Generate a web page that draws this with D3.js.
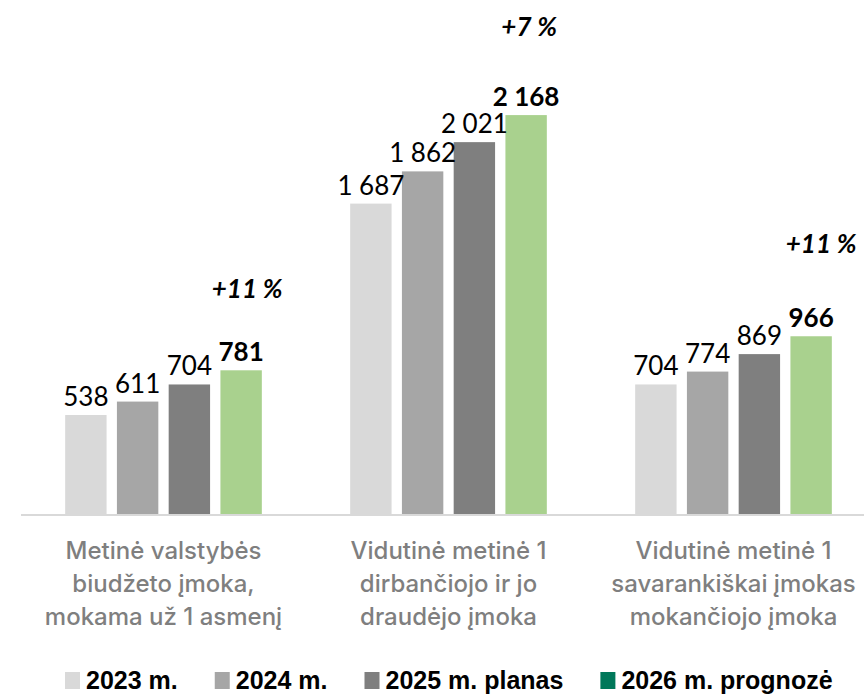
<!DOCTYPE html>
<html>
<head>
<meta charset="utf-8">
<script src="https://cdn.jsdelivr.net/npm/d3@7"></script>
<style>
  body { margin: 0; background: #fff; }
  svg { display: block; }
</style>
</head>
<body>
<div id="chart"></div>
<script>
// data
var categories = ["g1", "g2", "g3"];
var categoryLines = [
    ["Metinė valstybės", "biudžeto įmoka,", "mokama už 1 asmenį"],
    ["Vidutinė metinė 1", "dirbančiojo ir jo", "draudėjo  įmoka"],
    ["Vidutinė metinė 1", "savarankiškai įmokas", "mokančiojo įmoka"]
];
var seriesNames = ["2023 m.", "2024 m.", "2025 m. planas", "2026 m. prognozė"];
var values2023 = [538, 1687, 704];
var values2024 = [611, 1862, 774];
var values2025 = [704, 2021, 869];
var values2026 = [781, 2168, 966];
var growthLabels = ["+11 %", "+7 %", "+11 %"];

var seriesValues = [values2023, values2024, values2025, values2026];

// styles
var barColors = ["#d9d9d9", "#a6a6a6", "#7f7f7f", "#a9d18e"];
var legendColors = ["#d9d9d9", "#a6a6a6", "#7f7f7f", "#00785a"];
var noteLift = [72, 79, 83];
var noteShift = [6, 3, 10];

var width = 864, height = 697;
var baseY = 514;

var svg = d3.select("#chart")
    .append("svg")
    .attr("width", width)
    .attr("height", height);

// X scales
var x0 = d3.scaleBand()
    .domain(categories)
    .range([21, 876])
    .paddingInner(0)
    .paddingOuter(0);

var x1 = d3.scaleBand()
    .domain(d3.range(seriesNames.length))
    .range([x0.bandwidth() * 0.155, x0.bandwidth() * 0.845])
    .paddingInner(0.2);

// Y scale
var y = d3.scaleLinear()
    .domain([0, 2400])
    .range([baseY, 72.4]);

var rows = categories.map(function(c, i) {
    return seriesValues.map(function(s, j) {
        return {cat: c, idx: i, s: j, value: s[i]};
    });
});

var groups = svg.selectAll(".grp")
    .data(rows)
    .enter()
    .append("g")
    .attr("class", "grp")
    .attr("transform", function(d, i) { return "translate(" + x0(categories[i]) + ",0)"; });

//Bars
groups.selectAll("rect")
    .data(function(d) { return d; })
    .enter()
    .append("rect")
    .attr("x", function(d) { return x1(d.s); })
    .attr("y", function(d) { return y(d.value); })
    .attr("width", x1.bandwidth())
    .attr("height", function(d) { return y(0) - y(d.value); })
    .attr("fill", function(d) { return barColors[d.s]; });

// value labels
var fmt = function(v) { return d3.format(",")(v).replace(/,/g, " "); };
groups.selectAll(".val")
    .data(function(d) { return d; })
    .enter()
    .append("text")
    .attr("class", "val")
    .attr("x", function(d) { return x1(d.s) + x1.bandwidth() / 2; })
    .attr("y", function(d) { return y(d.value) - 9; })
    .attr("text-anchor", "middle")
    .style("font-family", "Lato, 'Open Sans', sans-serif")
    .style("font-size", "26px")
    .style("font-weight", function(d) { return d.s === 3 ? "bold" : "normal"; })
    .style("fill", "#000")
    .text(function(d) { return fmt(d.value); });

// growth notes
groups.append("text")
    .attr("x", function(d, i) { return x1(3) + x1.bandwidth() / 2 + noteShift[i]; })
    .attr("y", function(d, i) { return y(values2026[i]) - noteLift[i]; })
    .attr("text-anchor", "middle")
    .style("font-family", "Lato, sans-serif")
    .style("font-size", "26px")
    .style("font-weight", "bold")
    .style("font-style", "italic")
    .style("fill", "#000")
    .text(function(d, i) { return growthLabels[i]; });

// axis line
svg.append("line")
    .attr("x1", x0.range()[0])
    .attr("x2", width)
    .attr("y1", baseY + 1)
    .attr("y2", baseY + 1)
    .attr("stroke", "#d9d9d9")
    .attr("stroke-width", 2);

// category labels
groups.append("text")
    .attr("text-anchor", "middle")
    .style("font-family", "Inter, 'Noto Sans', sans-serif")
    .style("font-size", "24px")
    .style("font-weight", "500")
    .style("fill", "#7f7f7f")
    .selectAll("tspan")
    .data(function(d, i) { return categoryLines[i]; })
    .enter()
    .append("tspan")
    .attr("x", x0.bandwidth() / 2)
    .attr("y", function(d, k) { return 559 + k * 33; })
    .text(function(d) { return d; });

// legend
var legend = svg.append("g").attr("transform", "translate(65,689)");
var lx = 0;
seriesNames.forEach(function(name, i) {
    var item = legend.append("g").attr("transform", "translate(" + lx + ",0)");
    item.append("rect")
        .attr("x", 0)
        .attr("y", -17)
        .attr("width", 15)
        .attr("height", 17)
        .attr("fill", legendColors[i]);
    var t = item.append("text")
        .attr("x", 21)
        .attr("y", 0)
        .style("font-family", "'Liberation Sans', Arial, sans-serif")
        .style("font-size", "25px")
        .style("font-weight", "bold")
        .style("fill", "#000")
        .text(name);
    lx += 21 + t.node().getComputedTextLength() + 37;
});
</script>
</body>
</html>
